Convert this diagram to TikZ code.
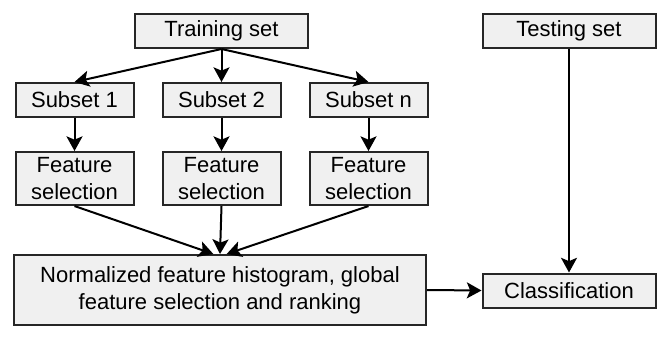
\documentclass[tikz,border=0pt]{standalone}
\usepackage{fontspec}
\setmainfont{Liberation Sans}
\usepackage{tikz}
\usetikzlibrary{arrows,arrows.meta,shapes,positioning,trees}
\tikzset{
	flowbox/.style = {rectangle, draw=black!85, line width=1.5pt, fill=gray!12, align=center, inner sep=1pt, font=\fontsize{16.5}{20}\selectfont},
	box_set/.style = {flowbox, minimum width=129.75pt, minimum height=25.5pt},
	box_sub/.style = {flowbox, minimum width=88.5pt, minimum height=25.5pt},
	box_fs/.style = {flowbox, minimum width=88.5pt, minimum height=39.75pt},
	box_big/.style = {flowbox, minimum width=309pt, minimum height=52.5pt}
}

\begin{document}
\begin{tikzpicture}[->,>={Stealth[length=11pt,width=12pt,inset=2.5pt]}, line width=1.5pt, x=0.75pt, y=0.75pt,
	edge from parent path={(\tikzparentnode.south) -- (\tikzchildnode.north)},
	level 1/.style={sibling distance = 110.25pt, level distance = 51.75pt},
	level 2/.style={level distance = 58.9pt}
	]
	\useasboundingbox (0,0) rectangle (659,-338);
	\node [box_set] (train) at (221.5,-31) {Training set}
	child{ node [box_sub] (sub1) {Subset 1}
		child{ node [box_fs] (fs1) {Feature\\selection} }
	}
	child{ node [box_sub] (sub2) {Subset 2}
		child{ node [box_fs] (fs2) {Feature\\selection} }
	}
	child{ node [box_sub] (subn) {Subset n}
		child{ node [box_fs] (fsn) {Feature\\selection} }
	}
	;
	\node [box_big] (norm) at (220,-290) {Normalized feature histogram, global\\feature selection and ranking};
	\node [box_set] (test) at (569,-31) {Testing set};
	\node [box_set] (class) at (569,-290.5) {Classification};
	% into the global ranking
	\draw (fs1.south) -- ([xshift=-5pt]norm.north);
	\draw (fs2.south) -- (norm.north);
	\draw (fsn.south) -- ([xshift=5pt]norm.north);
	\draw (norm.east) -- (class.west);
	\draw (test.south) -- (class.north);
\end{tikzpicture}
\end{document}
